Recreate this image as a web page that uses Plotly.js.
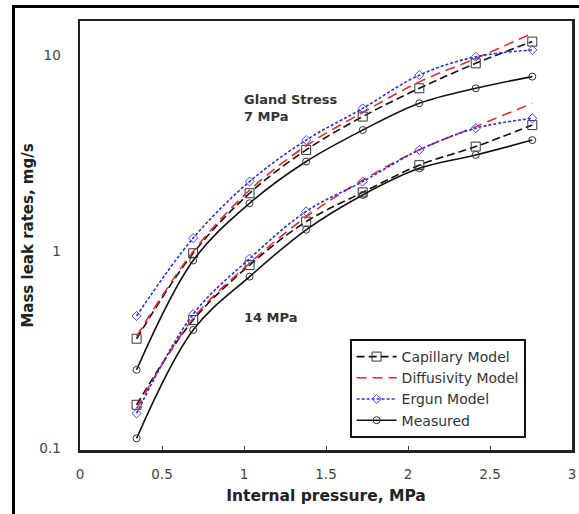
<!DOCTYPE html>
<html><head><meta charset="utf-8">
<script src="https://cdn.plot.ly/plotly-3.0.1.min.js"></script>
<style>
html,body{margin:0;padding:0;background:#fff;}
#wrap{position:relative;width:579px;height:514px;overflow:hidden;}
#chart{position:absolute;left:0;top:0;width:579px;height:514px;}
#frame{position:absolute;left:12px;top:5px;width:700px;height:700px;border-left:3px solid #000;border-top:3px solid #000;pointer-events:none;}
</style></head>
<body><div id="wrap"><div id="chart"></div><div id="frame"></div></div>
<script>
// Internal pressure, MPa
const pressure = [0.345, 0.69, 1.034, 1.379, 1.724, 2.069, 2.413, 2.758];

// Gland stress 7 MPa
const capillary7   = [0.36, 0.98, 1.98, 3.29, 4.86, 6.77, 9.07, 11.7];
const diffusivity7 = [0.37, 1.0, 2.05, 3.45, 5.1, 7.3, 9.6, 12.9];
const ergun7       = [0.47, 1.17, 2.27, 3.69, 5.35, 7.9, 9.8, 10.6];
const measured7    = [0.25, 0.9, 1.76, 2.87, 4.15, 5.68, 6.77, 7.76];

// Gland stress 14 MPa
const capillary14   = [0.166, 0.448, 0.853, 1.42, 2.0, 2.75, 3.42, 4.4];
const diffusivity14 = [0.159, 0.457, 0.87, 1.5, 2.31, 3.29, 4.32, 5.68];
const ergun14       = [0.15, 0.48, 0.92, 1.6, 2.27, 3.29, 4.24, 4.76];
const measured14    = [0.112, 0.399, 0.745, 1.29, 1.94, 2.65, 3.1, 3.69];

const seriesNames = ["Capillary Model", "Diffusivity Model", "Ergun Model", "Measured"];
const xTickLabels = ["0", "0.5", "1", "1.5", "2", "2.5", "3"];
const yTickLabels = ["0.1", "1", "10"];
const annotationTexts = ["Gland Stress<br>7 MPa", "14 MPa"];

const styles = {
  "Capillary Model":   {line:{color:"#111", width:1.6, dash:"8px,4px", shape:"spline"}, marker:{symbol:"square-open", size:9, color:"#333", line:{width:1}}, mode:"lines+markers"},
  "Diffusivity Model": {line:{color:"#e0302a", width:1.6, dash:"10px,6px", shape:"spline"}, marker:{size:1}, mode:"lines"},
  "Ergun Model":       {line:{color:"#2a2af0", width:1.6, dash:"3px,2px", shape:"spline"}, marker:{symbol:"diamond-open", size:7, color:"#4444ee", line:{width:1}}, mode:"lines+markers"},
  "Measured":          {line:{color:"#111", width:1.6, dash:"solid", shape:"spline"}, marker:{symbol:"circle-open", size:7, color:"#333", line:{width:1}}, mode:"lines+markers"}
};

const data7 = [capillary7, diffusivity7, ergun7, measured7];
const data14 = [capillary14, diffusivity14, ergun14, measured14];

const traces = [];
seriesNames.forEach((name, i) => {
  const st = styles[name];
  traces.push({x: pressure, y: data7[i], name: name, legendgroup: name, showlegend: true,
    type: "scatter", mode: st.mode, line: st.line, marker: st.marker});
  traces.push({x: pressure, y: data14[i], name: name, legendgroup: name, showlegend: false,
    type: "scatter", mode: st.mode, line: st.line, marker: st.marker});
});

const FONT = "DejaVu Sans, Liberation Sans, Arial, sans-serif";

const layout = {
  width: 579, height: 514,
  margin: {l: 80, r: 7, t: 21, b: 64},
  paper_bgcolor: "rgba(0,0,0,0)",
  plot_bgcolor: "#fff",
  font: {family: FONT, color: "#222"},
  showlegend: true,
  legend: {
    x: 0.548, y: 0.028, xanchor: "left", yanchor: "bottom",
    bgcolor: "#fff", bordercolor: "#111", borderwidth: 2,
    font: {size: 14, color: "#333", family: FONT},
    tracegroupgap: 0, itemwidth: 40
  },
  xaxis: {
    range: [0, 3], tickvals: [0, 0.5, 1, 1.5, 2, 2.5, 3], ticktext: xTickLabels,
    ticks: "inside", ticklen: 4, tickcolor: "#333", showgrid: false, zeroline: false,
    showline: true, linecolor: "#222", linewidth: 2.5, mirror: true,
    ticklabelstandoff: 10,
    tickfont: {size: 13.5, color: "#444", family: FONT},
    title: {text: "Internal pressure, MPa", font: {size: 15.5, color: "#222", weight: "bold", family: FONT}, standoff: 10}
  },
  yaxis: {
    type: "log", range: [-1.01, 1.173], tickvals: [0.1, 1, 10], ticktext: yTickLabels,
    ticks: "", showgrid: false, zeroline: false,
    showline: true, linecolor: "#222", linewidth: 2.5, mirror: true,
    ticklabelstandoff: 14,
    tickfont: {size: 13.5, color: "#444", family: FONT},
    title: {text: "Mass leak rates, mg/s", font: {size: 15, color: "#222", weight: "bold", family: FONT}, standoff: 2}
  },
  annotations: [
    {x: 0.985, y: Math.log10(5.4), xref: "x", yref: "y", text: annotationTexts[0], showarrow: false,
     xanchor: "left", align: "left", font: {size: 13, color: "#333", weight: "bold", family: FONT}},
    {x: 0.985, y: Math.log10(0.46), xref: "x", yref: "y", text: annotationTexts[1], showarrow: false,
     xanchor: "left", align: "left", font: {size: 13, color: "#333", weight: "bold", family: FONT}}
  ]
};

Plotly.newPlot("chart", traces, layout, {displayModeBar: false, staticPlot: true});
</script>
</body></html>
